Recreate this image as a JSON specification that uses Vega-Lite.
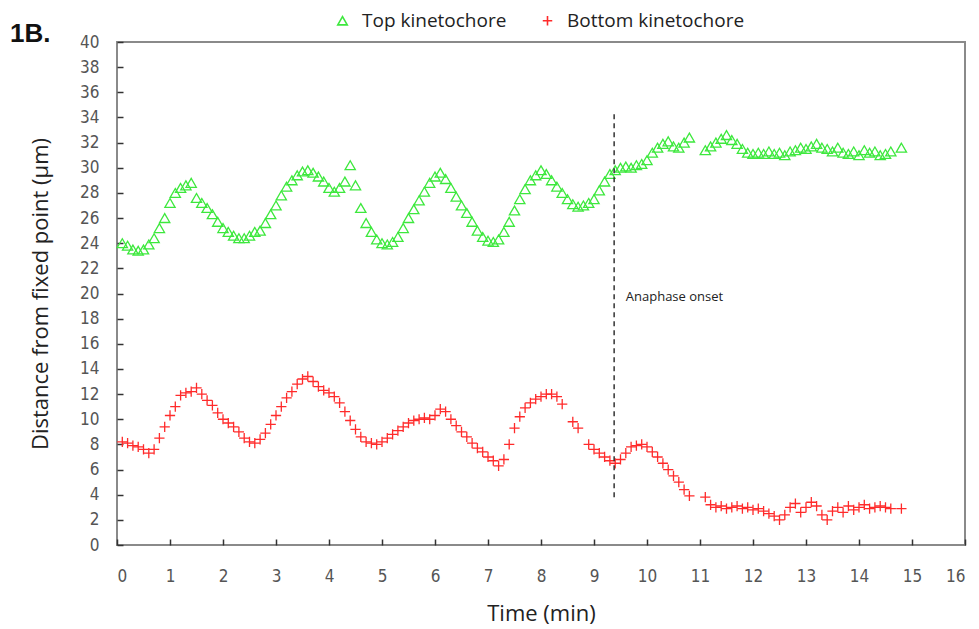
{
  "$schema": "https://vega.github.io/schema/vega-lite/v6.json",
  "width": 848,
  "height": 503,
  "autosize": {"type": "none"},
  "padding": {"left": 117, "top": 42, "right": 14, "bottom": 84},
  "title": {"text": "1B.", "anchor": "start", "frame": "group", "orient": "top", "dx": -107, "dy": 36, "offset": 0, "fontSize": 26, "fontWeight": "bold", "font": "Liberation Sans", "color": "#111"},
  "config": {
    "view": {"stroke": "#8a8a8a", "strokeWidth": 2},
    "axis": {"grid": false, "domain": false, "tickColor": "#333", "tickWidth": 1.5, "labelFont": "DejaVu Sans Condensed, Liberation Sans Narrow, Liberation Sans", "labelFontSize": 17, "labelColor": "#555", "titleFont": "Open Sans", "titleFontSize": 22, "titleFontWeight": "normal", "titleColor": "#222"}
  },
  "encoding": {
    "x": {"field": "t", "type": "quantitative", "scale": {"domain": [0, 16], "nice": false},
          "axis": {"title": "Time (min)", "values": [0,1,2,3,4,5,6,7,8,9,10,11,12,13,14,15,16], "tickSize": -6, "labelPadding": 29, "titlePadding": 19}},
    "y": {"field": "d", "type": "quantitative", "scale": {"domain": [0, 40], "nice": false},
          "axis": {"title": "Distance from fixed point  (µm)", "values": [0,2,4,6,8,10,12,14,16,18,20,22,24,26,28,30,32,34,36,38,40], "tickSize": -6, "labelPadding": 24, "titlePadding": 27}}
  },
  "layer": [
    {
      "data": {"values": [
        {"t":0.1,"Top kinetochore":24.0,"Bottom kinetochore":8.2},
        {"t":0.2,"Top kinetochore":23.8,"Bottom kinetochore":8.1},
        {"t":0.3,"Top kinetochore":23.5,"Bottom kinetochore":7.9},
        {"t":0.4,"Top kinetochore":23.4,"Bottom kinetochore":7.8},
        {"t":0.5,"Top kinetochore":23.5,"Bottom kinetochore":7.6},
        {"t":0.6,"Top kinetochore":23.9,"Bottom kinetochore":7.3},
        {"t":0.7,"Top kinetochore":24.4,"Bottom kinetochore":7.6},
        {"t":0.8,"Top kinetochore":25.2,"Bottom kinetochore":8.5},
        {"t":0.9,"Top kinetochore":26.0,"Bottom kinetochore":9.4},
        {"t":1.0,"Top kinetochore":27.2,"Bottom kinetochore":10.3},
        {"t":1.1,"Top kinetochore":28.0,"Bottom kinetochore":11.0},
        {"t":1.2,"Top kinetochore":28.4,"Bottom kinetochore":11.9},
        {"t":1.3,"Top kinetochore":28.6,"Bottom kinetochore":12.1},
        {"t":1.4,"Top kinetochore":28.8,"Bottom kinetochore":12.2},
        {"t":1.5,"Top kinetochore":27.6,"Bottom kinetochore":12.5},
        {"t":1.6,"Top kinetochore":27.2,"Bottom kinetochore":12.0},
        {"t":1.7,"Top kinetochore":26.8,"Bottom kinetochore":11.5},
        {"t":1.8,"Top kinetochore":26.3,"Bottom kinetochore":11.1},
        {"t":1.9,"Top kinetochore":25.7,"Bottom kinetochore":10.5},
        {"t":2.0,"Top kinetochore":25.2,"Bottom kinetochore":10.0},
        {"t":2.1,"Top kinetochore":24.9,"Bottom kinetochore":9.7},
        {"t":2.2,"Top kinetochore":24.6,"Bottom kinetochore":9.4},
        {"t":2.3,"Top kinetochore":24.4,"Bottom kinetochore":9.0},
        {"t":2.4,"Top kinetochore":24.4,"Bottom kinetochore":8.5},
        {"t":2.5,"Top kinetochore":24.6,"Bottom kinetochore":8.2},
        {"t":2.6,"Top kinetochore":24.9,"Bottom kinetochore":8.1},
        {"t":2.7,"Top kinetochore":25.0,"Bottom kinetochore":8.4},
        {"t":2.8,"Top kinetochore":25.6,"Bottom kinetochore":8.9},
        {"t":2.9,"Top kinetochore":26.3,"Bottom kinetochore":9.6},
        {"t":3.0,"Top kinetochore":27.0,"Bottom kinetochore":10.3},
        {"t":3.1,"Top kinetochore":27.8,"Bottom kinetochore":11.0},
        {"t":3.2,"Top kinetochore":28.5,"Bottom kinetochore":11.7},
        {"t":3.3,"Top kinetochore":29.0,"Bottom kinetochore":12.2},
        {"t":3.4,"Top kinetochore":29.4,"Bottom kinetochore":12.8},
        {"t":3.5,"Top kinetochore":29.7,"Bottom kinetochore":13.2},
        {"t":3.6,"Top kinetochore":29.8,"Bottom kinetochore":13.4},
        {"t":3.7,"Top kinetochore":29.6,"Bottom kinetochore":13.0},
        {"t":3.8,"Top kinetochore":29.3,"Bottom kinetochore":12.6},
        {"t":3.9,"Top kinetochore":28.9,"Bottom kinetochore":12.3},
        {"t":4.0,"Top kinetochore":28.4,"Bottom kinetochore":12.1},
        {"t":4.1,"Top kinetochore":28.1,"Bottom kinetochore":11.8},
        {"t":4.2,"Top kinetochore":28.4,"Bottom kinetochore":11.3},
        {"t":4.3,"Top kinetochore":28.9,"Bottom kinetochore":10.6},
        {"t":4.4,"Top kinetochore":30.2,"Bottom kinetochore":9.9},
        {"t":4.5,"Top kinetochore":28.6,"Bottom kinetochore":9.2},
        {"t":4.6,"Top kinetochore":26.8,"Bottom kinetochore":8.6},
        {"t":4.7,"Top kinetochore":25.6,"Bottom kinetochore":8.2},
        {"t":4.8,"Top kinetochore":24.9,"Bottom kinetochore":8.1},
        {"t":4.9,"Top kinetochore":24.3,"Bottom kinetochore":8.0},
        {"t":5.0,"Top kinetochore":24.0,"Bottom kinetochore":8.2},
        {"t":5.1,"Top kinetochore":23.9,"Bottom kinetochore":8.5},
        {"t":5.2,"Top kinetochore":24.1,"Bottom kinetochore":8.8},
        {"t":5.3,"Top kinetochore":24.5,"Bottom kinetochore":9.1},
        {"t":5.4,"Top kinetochore":25.2,"Bottom kinetochore":9.4},
        {"t":5.5,"Top kinetochore":26.0,"Bottom kinetochore":9.7},
        {"t":5.6,"Top kinetochore":26.7,"Bottom kinetochore":9.9},
        {"t":5.7,"Top kinetochore":27.4,"Bottom kinetochore":10.0},
        {"t":5.8,"Top kinetochore":28.1,"Bottom kinetochore":10.1},
        {"t":5.9,"Top kinetochore":28.8,"Bottom kinetochore":10.0},
        {"t":6.0,"Top kinetochore":29.3,"Bottom kinetochore":10.3},
        {"t":6.1,"Top kinetochore":29.6,"Bottom kinetochore":10.8},
        {"t":6.2,"Top kinetochore":29.1,"Bottom kinetochore":10.6},
        {"t":6.3,"Top kinetochore":28.4,"Bottom kinetochore":10.0},
        {"t":6.4,"Top kinetochore":27.7,"Bottom kinetochore":9.5},
        {"t":6.5,"Top kinetochore":27.0,"Bottom kinetochore":9.0},
        {"t":6.6,"Top kinetochore":26.4,"Bottom kinetochore":8.6},
        {"t":6.7,"Top kinetochore":25.7,"Bottom kinetochore":8.1},
        {"t":6.8,"Top kinetochore":25.0,"Bottom kinetochore":7.7},
        {"t":6.9,"Top kinetochore":24.5,"Bottom kinetochore":7.4},
        {"t":7.0,"Top kinetochore":24.2,"Bottom kinetochore":7.0},
        {"t":7.1,"Top kinetochore":24.1,"Bottom kinetochore":6.7},
        {"t":7.2,"Top kinetochore":24.3,"Bottom kinetochore":6.3},
        {"t":7.3,"Top kinetochore":24.9,"Bottom kinetochore":6.8},
        {"t":7.4,"Top kinetochore":25.7,"Bottom kinetochore":8.0},
        {"t":7.5,"Top kinetochore":26.6,"Bottom kinetochore":9.3},
        {"t":7.6,"Top kinetochore":27.5,"Bottom kinetochore":10.2},
        {"t":7.7,"Top kinetochore":28.3,"Bottom kinetochore":10.9},
        {"t":7.8,"Top kinetochore":29.0,"Bottom kinetochore":11.3},
        {"t":7.9,"Top kinetochore":29.4,"Bottom kinetochore":11.6},
        {"t":8.0,"Top kinetochore":29.8,"Bottom kinetochore":11.8},
        {"t":8.1,"Top kinetochore":29.5,"Bottom kinetochore":12.0},
        {"t":8.2,"Top kinetochore":29.0,"Bottom kinetochore":12.0},
        {"t":8.3,"Top kinetochore":28.5,"Bottom kinetochore":11.8},
        {"t":8.4,"Top kinetochore":28.0,"Bottom kinetochore":11.2},
        {"t":8.5,"Top kinetochore":27.5},
        {"t":8.6,"Top kinetochore":27.1,"Bottom kinetochore":9.8},
        {"t":8.7,"Top kinetochore":26.9,"Bottom kinetochore":9.3},
        {"t":8.8,"Top kinetochore":27.0},
        {"t":8.9,"Top kinetochore":27.2,"Bottom kinetochore":8.0},
        {"t":9.0,"Top kinetochore":27.5,"Bottom kinetochore":7.6},
        {"t":9.1,"Top kinetochore":28.2,"Bottom kinetochore":7.3},
        {"t":9.2,"Top kinetochore":28.9,"Bottom kinetochore":7.0},
        {"t":9.3,"Top kinetochore":29.5,"Bottom kinetochore":6.7},
        {"t":9.4,"Top kinetochore":29.8,"Bottom kinetochore":6.5},
        {"t":9.5,"Top kinetochore":30.0,"Bottom kinetochore":6.8},
        {"t":9.6,"Top kinetochore":30.1,"Bottom kinetochore":7.3},
        {"t":9.7,"Top kinetochore":30.0,"Bottom kinetochore":7.8},
        {"t":9.8,"Top kinetochore":30.2,"Bottom kinetochore":7.9},
        {"t":9.9,"Top kinetochore":30.3,"Bottom kinetochore":8.0},
        {"t":10.0,"Top kinetochore":30.6,"Bottom kinetochore":7.8},
        {"t":10.1,"Top kinetochore":31.2,"Bottom kinetochore":7.4},
        {"t":10.2,"Top kinetochore":31.6,"Bottom kinetochore":7.0},
        {"t":10.3,"Top kinetochore":31.9,"Bottom kinetochore":6.5},
        {"t":10.4,"Top kinetochore":32.1,"Bottom kinetochore":6.0},
        {"t":10.5,"Top kinetochore":31.7,"Bottom kinetochore":5.5},
        {"t":10.6,"Top kinetochore":31.6,"Bottom kinetochore":5.0},
        {"t":10.7,"Top kinetochore":32.0,"Bottom kinetochore":4.4},
        {"t":10.8,"Top kinetochore":32.4,"Bottom kinetochore":3.9},
        {"t":11.1,"Top kinetochore":31.4,"Bottom kinetochore":3.8},
        {"t":11.2,"Top kinetochore":31.7,"Bottom kinetochore":3.2},
        {"t":11.3,"Top kinetochore":32.0,"Bottom kinetochore":3.0},
        {"t":11.4,"Top kinetochore":32.3,"Bottom kinetochore":3.1},
        {"t":11.5,"Top kinetochore":32.6,"Bottom kinetochore":2.9},
        {"t":11.6,"Top kinetochore":32.2,"Bottom kinetochore":3.0},
        {"t":11.7,"Top kinetochore":31.9,"Bottom kinetochore":3.1},
        {"t":11.8,"Top kinetochore":31.5,"Bottom kinetochore":2.9},
        {"t":11.9,"Top kinetochore":31.2,"Bottom kinetochore":3.0},
        {"t":12.0,"Top kinetochore":31.1,"Bottom kinetochore":2.8},
        {"t":12.1,"Top kinetochore":31.2,"Bottom kinetochore":2.9},
        {"t":12.2,"Top kinetochore":31.1,"Bottom kinetochore":2.7},
        {"t":12.3,"Top kinetochore":31.3,"Bottom kinetochore":2.5},
        {"t":12.4,"Top kinetochore":31.1,"Bottom kinetochore":2.3},
        {"t":12.5,"Top kinetochore":31.2,"Bottom kinetochore":2.0},
        {"t":12.6,"Top kinetochore":31.0,"Bottom kinetochore":2.4},
        {"t":12.7,"Top kinetochore":31.3,"Bottom kinetochore":3.0},
        {"t":12.8,"Top kinetochore":31.4,"Bottom kinetochore":3.3},
        {"t":12.9,"Top kinetochore":31.6,"Bottom kinetochore":2.6},
        {"t":13.0,"Top kinetochore":31.5,"Bottom kinetochore":3.0},
        {"t":13.1,"Top kinetochore":31.7,"Bottom kinetochore":3.4},
        {"t":13.2,"Top kinetochore":31.9,"Bottom kinetochore":3.1},
        {"t":13.3,"Top kinetochore":31.6,"Bottom kinetochore":2.4},
        {"t":13.4,"Top kinetochore":31.5,"Bottom kinetochore":2.0},
        {"t":13.5,"Top kinetochore":31.3,"Bottom kinetochore":2.7},
        {"t":13.6,"Top kinetochore":31.6,"Bottom kinetochore":3.0},
        {"t":13.7,"Top kinetochore":31.2,"Bottom kinetochore":2.6},
        {"t":13.8,"Top kinetochore":31.1,"Bottom kinetochore":3.1},
        {"t":13.9,"Top kinetochore":31.3,"Bottom kinetochore":2.8},
        {"t":14.0,"Top kinetochore":31.0,"Bottom kinetochore":3.0},
        {"t":14.1,"Top kinetochore":31.4,"Bottom kinetochore":3.2},
        {"t":14.2,"Top kinetochore":31.2,"Bottom kinetochore":2.9},
        {"t":14.3,"Top kinetochore":31.3,"Bottom kinetochore":3.0},
        {"t":14.4,"Top kinetochore":31.0,"Bottom kinetochore":3.1},
        {"t":14.5,"Top kinetochore":31.1,"Bottom kinetochore":3.0},
        {"t":14.6,"Top kinetochore":31.3,"Bottom kinetochore":2.9},
        {"t":14.8,"Top kinetochore":31.6,"Bottom kinetochore":2.9}
      ]},
      "transform": [
        {"fold": ["Top kinetochore", "Bottom kinetochore"], "as": ["k", "d"]},
        {"filter": "isValid(datum.d)"}
      ],
      "mark": {"type": "point", "filled": false, "strokeWidth": 1.3, "size": 105, "opacity": 1},
      "encoding": {
        "color": {"field": "k", "type": "nominal",
                  "scale": {"domain": ["Top kinetochore", "Bottom kinetochore"], "range": ["#3de83d", "#ff2a2a"]},
                  "legend": {"title": null, "orient": "none", "legendX": 216, "legendY": -31, "direction": "horizontal", "labelFont": "Open Sans", "labelFontSize": 19, "labelColor": "#222", "labelLimit": 400, "labelOffset": 10, "symbolSize": 90, "symbolStrokeWidth": 1.6, "columnPadding": 31}},
        "shape": {"field": "k", "type": "nominal",
                  "scale": {"domain": ["Top kinetochore", "Bottom kinetochore"], "range": ["triangle-up", "M-1,0H1M0,-1V1"]},
                  "legend": {"title": null, "orient": "none", "legendX": 216, "legendY": -31, "direction": "horizontal", "labelFont": "Open Sans", "labelFontSize": 19, "labelColor": "#222", "labelLimit": 400, "labelOffset": 10, "symbolSize": 90, "symbolStrokeWidth": 1.6, "columnPadding": 31}}
      }
    },
    {
      "data": {"values": [{"t": 9.38, "d": 3.8, "d2": 34.3}]},
      "mark": {"type": "rule", "strokeDash": [5, 4], "color": "#333", "strokeWidth": 1.5},
      "encoding": {
        "y2": {"field": "d2"}
      }
    },
    {
      "data": {"values": [{"t": 9.6, "d": 19.7, "label": "Anaphase onset"}]},
      "mark": {"type": "text", "align": "left", "baseline": "middle", "font": "Open Sans", "fontSize": 13, "color": "#222"},
      "encoding": {
        "text": {"field": "label"}
      }
    }
  ]
}
